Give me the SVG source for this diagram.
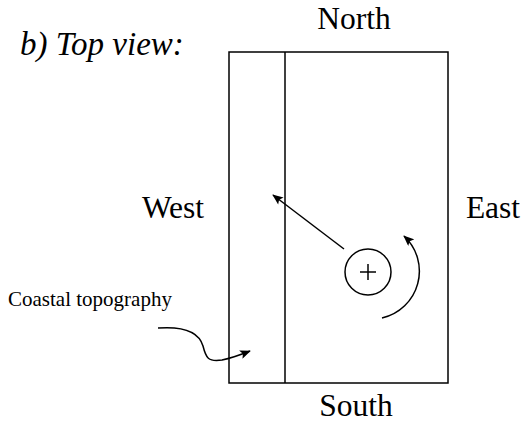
<svg xmlns="http://www.w3.org/2000/svg" width="525" height="427" viewBox="0 0 525 427">
<style>
.t{font-family:"Liberation Serif","Times New Roman",serif;fill:#000}
.big{font-size:31.5px}
.ln{fill:none;stroke:#000;stroke-width:1.5}
</style>
<defs>
<marker id="ah" viewBox="0 0 12 10" refX="11" refY="5" markerWidth="12" markerHeight="9" markerUnits="userSpaceOnUse" orient="auto">
<path d="M0,0 L12,5 L0,10 L2.5,5 Z" fill="#000"/>
</marker>
</defs>
<rect width="525" height="427" fill="#fff"/>
<g id="title"><text class="t" x="20" y="55" font-size="33" font-style="italic">b) Top view:</text></g>
<g id="box">
<rect class="ln" x="229" y="52" width="219" height="331"/>
<line class="ln" x1="285" y1="52" x2="285" y2="383"/>
</g>
<g id="north"><text class="t big" x="354" y="29" text-anchor="middle">North</text></g>
<g id="south"><text class="t big" x="356" y="416" text-anchor="middle">South</text></g>
<g id="west"><text class="t big" x="173" y="218" text-anchor="middle">West</text></g>
<g id="east"><text class="t big" x="493" y="218" text-anchor="middle">East</text></g>
<g id="coastal"><text class="t" x="8" y="306" font-size="21">Coastal topography</text></g>
<g id="high">
<circle class="ln" cx="368" cy="272" r="23"/>
<line class="ln" x1="360" y1="272" x2="376" y2="272" stroke-width="2"/>
<line class="ln" x1="368" y1="264" x2="368" y2="280" stroke-width="2"/>
</g>
<g id="connectors">
<line class="ln" x1="344" y1="249" x2="273" y2="195" marker-end="url(#ah)"/>
<path class="ln" d="M382,318 A48,48 0 0 0 404,236" marker-end="url(#ah)"/>
<path class="ln" d="M158,328 C185,326 199,332 203,346 C206,358 208,362 222,360 C232,358 240,355 250,351" marker-end="url(#ah)"/>
</g>
</svg>
